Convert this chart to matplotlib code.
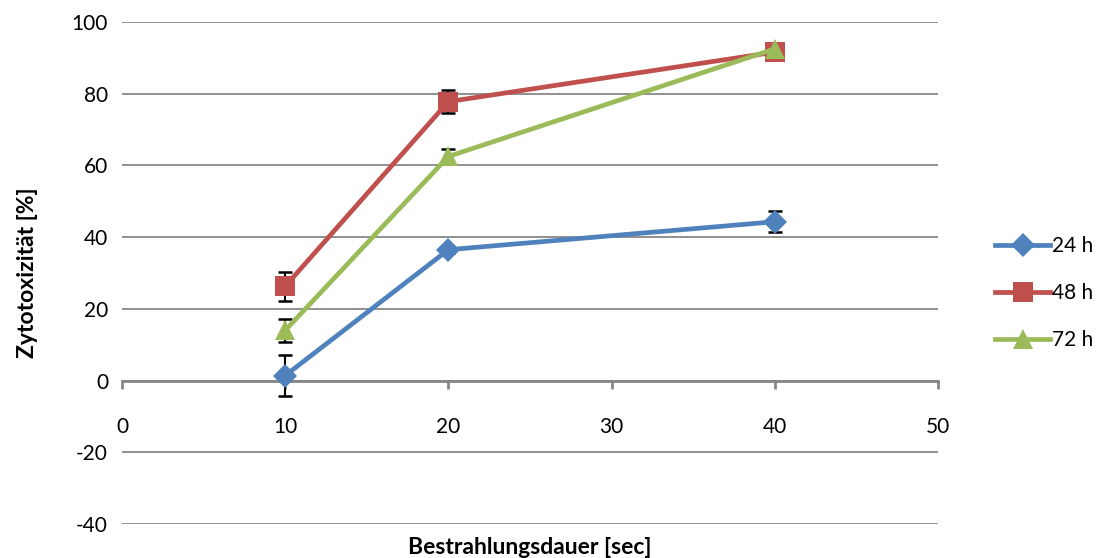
import numpy as np
import matplotlib.pyplot as plt

plt.rcParams['font.family'] = ['Lato', 'DejaVu Sans']
plt.rcParams['axes.unicode_minus'] = False

# Daten
dauer = [10, 20, 40]
labels = ["24 h", "48 h", "72 h"]
zyto_24 = [1.4, 36.5, 44.3]
err_24 = [5.8, 0.8, 2.9]
zyto_48 = [26.3, 77.8, 91.6]
err_48 = [4.0, 3.1, 0.8]
zyto_72 = [14.0, 62.5, 92.5]
err_72 = [3.2, 2.0, 0.5]

colors = ["#4F81BD", "#C0504D", "#9BBB59"]
markers = ["D", "s", "^"]
msizes = [12, 14, 15]

fig = plt.figure(figsize=(11.03, 5.58), dpi=100)
ax = fig.add_axes([122 / 1103, 1 - 524 / 558, (938 - 122) / 1103, (524 - 22) / 558])

handles = []
for y, e, col, m, ms, lab in zip([zyto_24, zyto_48, zyto_72],
                                 [err_24, err_48, err_72],
                                 colors, markers, msizes, labels):
    ax.errorbar(dauer, y, yerr=e, fmt="none", ecolor="black",
                elinewidth=1.5, capsize=5, capthick=1.8, zorder=2)
    h, = ax.plot(dauer, y, color=col, linewidth=3.4, marker=m,
                 markersize=ms, markeredgewidth=0, label=lab, zorder=3)
    handles.append(h)

ax.set_xlim(0, 50)
ax.set_ylim(-40, 100)
ax.set_xticks(range(0, 51, 10))
ax.set_yticks(range(-40, 101, 20))

ax.yaxis.grid(True, color="#888888", linewidth=1.3)
ax.set_axisbelow(True)

for s in ["left", "right", "top"]:
    ax.spines[s].set_visible(False)
ax.spines["bottom"].set_position(("data", 0))
ax.spines["bottom"].set_color("#868686")
ax.spines["bottom"].set_linewidth(2)

ax.tick_params(axis="x", direction="out", length=6, width=2, color="#868686",
               pad=20, labelsize=15)
ax.tick_params(axis="y", length=0, pad=10, labelsize=15)

ax.set_ylabel("Zytotoxizität [%]", fontsize=16.5, fontweight="bold", labelpad=24)
ax.set_xlabel("Bestrahlungsdauer [sec]", fontsize=16.5, fontweight="bold")
ax.xaxis.set_label_coords(0.5, -0.025)

fig.legend(handles=handles, loc="center left",
           bbox_to_anchor=(985 / 1103, 1 - 293 / 558), frameon=False,
           fontsize=15, handlelength=2.6, handletextpad=0.1, labelspacing=1.3,
           borderpad=0)

fig.savefig("out.png", dpi=100)
